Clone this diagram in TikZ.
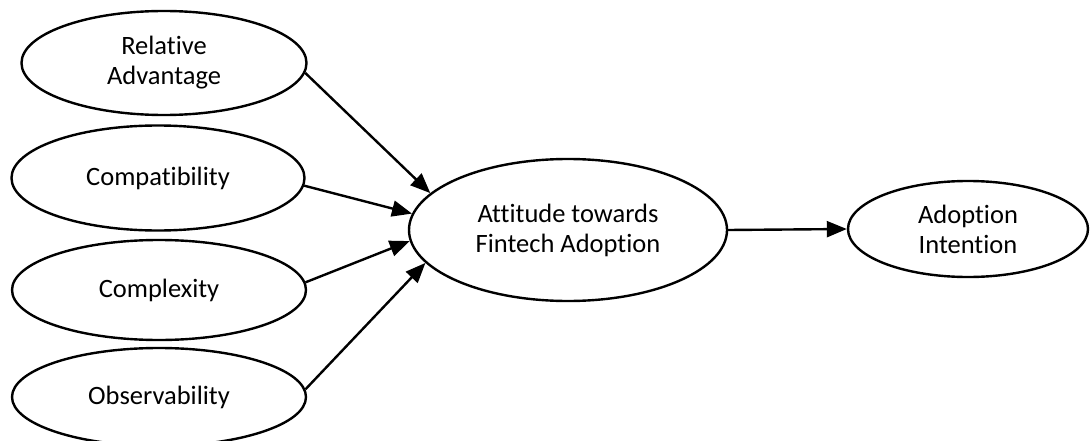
\documentclass[tikz,border=0pt]{standalone}
\usepackage{fontspec}
\setmainfont{Carlito}[RawFeature={-liga}]
\usetikzlibrary{shapes.geometric,arrows.meta}
\begin{document}
\begin{tikzpicture}[x=1pt,y=-1pt,
  ell/.style={draw, ellipse, line width=2.4pt, inner sep=0pt, align=center,
    font=\fontsize{26.5}{30}\selectfont},
  arr/.style={line width=2.4pt, -{Triangle[length=20pt,width=16pt]}}]
\clip (0,0) rectangle (1091,441);
\useasboundingbox (0,0) rectangle (1091,441);
\node[ell, minimum width=285pt, minimum height=104pt] (ra) at (164,63) {Relative\\Advantage};
\node[ell, minimum width=293pt, minimum height=105pt] (co) at (158,178) {Compatibility};
\node[ell, minimum width=294pt, minimum height=100pt] (cx) at (159,290) {Complexity};
\node[ell, minimum width=294pt, minimum height=98pt] (ob) at (159,397) {Observability};
\node[ell, minimum width=318pt, minimum height=142pt] (at) at (568,230) {Attitude towards\\Fintech Adoption};
\node[ell, minimum width=240pt, minimum height=96pt] (ai) at (968,229) {Adoption\\Intention};
\draw[arr] (ra.-4) -- (at.165);
\draw[arr] (co.-3) -- (at.174);
\draw[arr] (cx.3) -- (at.184);
\draw[arr] (ob.3) -- (at.193);
\draw[arr] (at.east) -- (ai.west);
\end{tikzpicture}
\end{document}
